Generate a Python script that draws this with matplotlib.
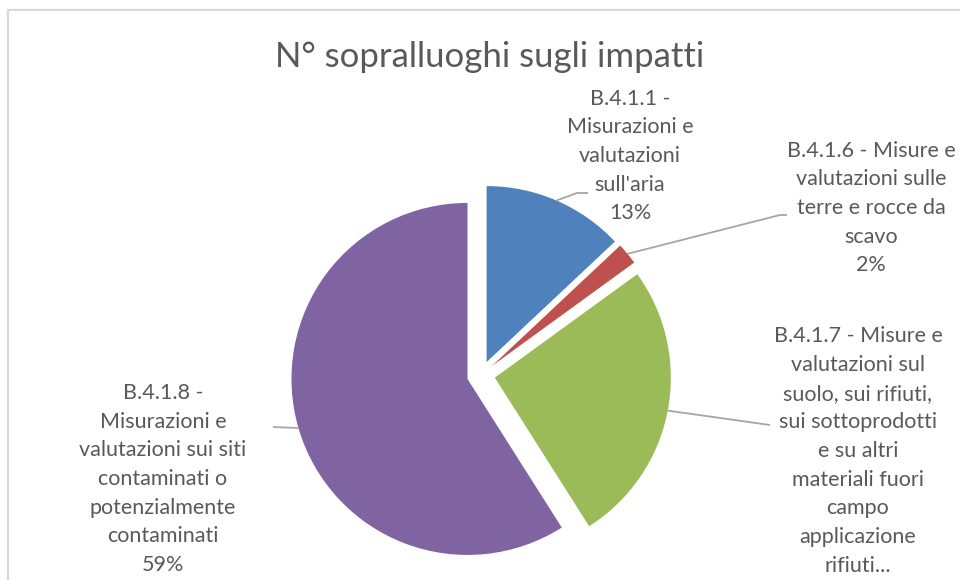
import math
import matplotlib
matplotlib.use("Agg")
import matplotlib.pyplot as plt
from matplotlib.patches import Rectangle

plt.rcParams['font.family'] = ['Lato', 'DejaVu Sans']

# dati
titolo = "N° sopralluoghi sugli impatti"
etichette = [
    "B.4.1.1 -\nMisurazioni e\nvalutazioni\nsull'aria",
    "B.4.1.6 - Misure e\nvalutazioni sulle\nterre e rocce da\nscavo",
    "B.4.1.7 - Misure e\nvalutazioni sul\nsuolo, sui rifiuti,\nsui sottoprodotti\ne su altri\nmateriali fuori\ncampo\napplicazione\nrifiuti...",
    "B.4.1.8 -\nMisurazioni e\nvalutazioni sui siti\ncontaminati o\npotenzialmente\ncontaminati",
]
valori = [13, 2, 26, 59]
# nel riferimento la percentuale del verde finisce fuori dal riquadro
mostra_perc = [True, True, False, True]
colori = ['#4F81BD', '#C0504D', '#9BBB59', '#8064A2']
esplosi = [0.08, 0.08, 0.08, 0.08]

# geometria (pixel, origine in alto a sinistra)
W, H = 960, 580
CX, CY, R = 481, 375, 176


def px(x, y):
    return ((x - CX) / R, (CY - y) / R)


fig = plt.figure(figsize=(W / 100, H / 100), dpi=100)
ax = fig.add_axes([0, 0, 1, 1])

wedges, _ = ax.pie(valori, colors=colori, startangle=90, counterclock=False,
                   radius=1, center=(0, 0), explode=esplosi,
                   wedgeprops=dict(linewidth=0))

ax.set_xlim(-CX / R, (W - CX) / R)
ax.set_ylim((CY - H) / R, CY / R)
ax.set_aspect('equal', adjustable='box')
ax.axis('off')

# cornice
fig.patches.append(Rectangle((8 / W, -0.1), 1.2, 1 - 10 / H + 0.1,
                             transform=fig.transFigure, fill=False,
                             edgecolor='#D9D9D9', linewidth=1.6))

fig.text(490 / W, 1 - 57 / H, titolo, ha='center', va='center',
         fontsize=25, color='#595959')

grigio = '#595959'
linea = '#A6A6A6'

# posizione etichette (prima riga) e gomito delle linee guida
pos_testo = [(630, 98), (871, 150), (858, 335), (163, 392)]
gomiti = [[(577, 193), (588, 193)],
          [(780, 215), (787, 215)],
          [(770, 425)],
          [(273, 427)]]

for w, lab, v, mp, (tx, ty), gom in zip(wedges, etichette, valori, mostra_perc,
                                         pos_testo, gomiti):
    tm = math.radians((w.theta1 + w.theta2) / 2)
    ax_x = w.center[0] + w.r * math.cos(tm)
    ax_y = w.center[1] + w.r * math.sin(tm)
    pts = [(ax_x, ax_y)] + [px(*p) for p in gom]
    ax.plot([p[0] for p in pts], [p[1] for p in pts], color=linea, lw=1.3,
            solid_capstyle='butt')
    testo = f"{lab}\n{v}%" if mp else lab
    n = testo.count("\n")
    x, y = px(tx, ty + n * 29 / 2)
    ax.text(x, y, testo, ha='center', va='center', fontsize=15.5,
            color=grigio, linespacing=1.54)

fig.savefig("out.png", dpi=100)
